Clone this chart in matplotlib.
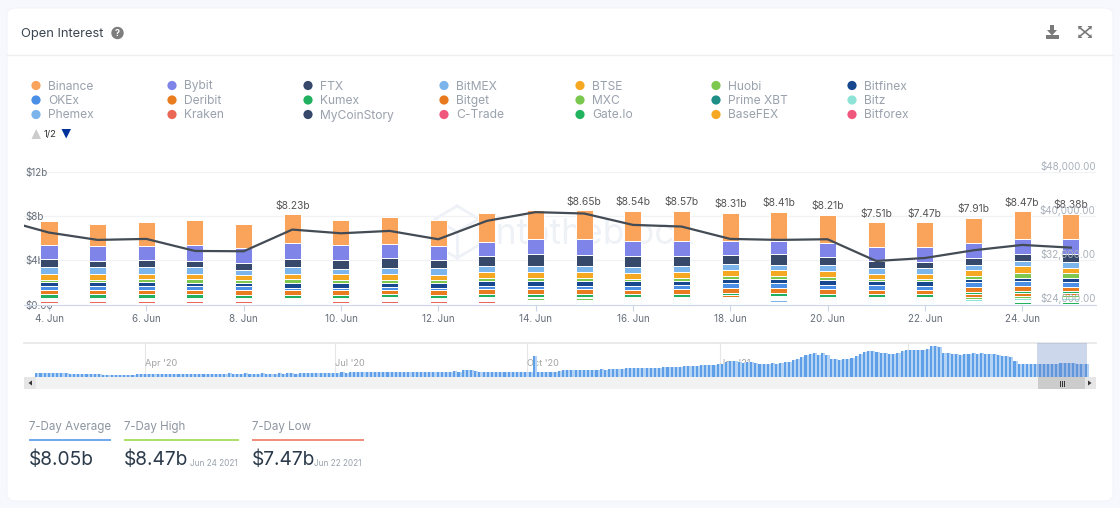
import numpy as np
import matplotlib
matplotlib.use("Agg")
import matplotlib.pyplot as plt
from matplotlib.patches import FancyBboxPatch, Rectangle, Circle, Polygon

plt.rcParams['font.family'] = ['Inter', 'DejaVu Sans']

days = list(range(4, 26))
tick_days = [4, 6, 8, 10, 12, 14, 16, 18, 20, 22, 24]
tick_labels = ["4. Jun", "6. Jun", "8. Jun", "10. Jun", "12. Jun", "14. Jun", "16. Jun", "18. Jun", "20. Jun", "22. Jun", "24. Jun"]

Binance = [2.14, 2.05, 2.14, 2.24, 2.21, 2.60, 2.33, 2.39, 2.30, 2.63, 2.66, 2.66, 2.75, 2.75, 2.54, 2.60, 2.54, 2.24, 2.24, 2.33, 2.54, 2.30]
Bybit = [1.30, 1.33, 1.33, 1.45, 1.33, 1.45, 1.30, 1.30, 1.33, 1.30, 1.33, 1.39, 1.33, 1.33, 1.33, 1.24, 1.30, 1.30, 1.36, 1.30, 1.33, 1.33]
FTX = [.73, .57, .63, .57, .63, .73, .82, .88, .73, .88, 1.03, 1.03, .97, .88, .76, .97, .76, .57, .51, .66, .66, .72]
BitMEX = [.57, .57, .57, .57, .45, .66, .48, .57, .57, .57, .63, .57, .57, .63, .60, .48, .54, .57, .57, .48, .48, .54]
BTSE = [.54, .54, .45, .45, .45, .45, .54, .54, .45, .51, .51, .51, .54, .51, .54, .51, .54, .45, .45, .51, .60, .48]
Huobi = [.18, .18, .27, .36, .27, .36, .27, .27, .27, .30, .30, .30, .24, .24, .24, .30, .21, .21, .21, .24, .42, .42]
Bitfinex = [.42, .42, .42, .33, .33, .45, .45, .33, .45, .39, .39, .39, .39, .39, .36, .36, .45, .36, .39, .33, .33, .42]
OKEx = [.30, .30, .30, .30, .30, .18, .18, .30, .24, .33, .30, .33, .39, .36, .45, .45, .42, .42, .39, .45, .45, .45]
Deribit = [.42, .42, .42, .42, .45, .45, .45, .42, .39, .48, .45, .42, .36, .45, .45, .42, .42, .36, .42, .42, .42, .33]
Kumex = [.30, .30, .36, .30, .27, .27, .27, .24, .27, .24, .30, .30, .30, .24, .21, .24, .24, .30, .24, .21, .24, .18]
Bitget = [.08, .08, .06, .08, .08, .07, .08, .10, .08, .10, .10, .10, .10, .12, .14, .14, .12, .12, .12, .26, .22, .22]
MXC = [.07, .07, .07, .08, .07, .07, .08, .08, .07, .08, .10, .10, .08, .10, .12, .12, .10, .08, .08, .14, .16, .18]
PrimeXBT = [.05, .05, .04, .05, .05, .05, .05, .05, .05, .05, .05, .05, .06, .06, .07, .07, .06, .05, .05, .07, .07, .08]
Bitz = [.06, .06, .05, .06, .06, .08, .06, .07, .06, .07, .08, .08, .09, .09, .10, .10, .09, .09, .09, .11, .12, .13]
Phemex = [.05, .05, .04, .05, .05, .09, .05, .06, .05, .06, .10, .10, .10, .11, .13, .12, .12, .11, .11, .12, .13, .14]
Kraken = [.14, .14, .13, .14, .14, .03, .12, .14, .14, .14, .03, .03, .03, .04, .05, .04, .06, .03, .03, .03, .03, .04]
MyCoinStory = [.02, .02, .02, .02, .02, .02, .02, .02, .02, .02, .02, .02, .02, .02, .03, .02, .02, .02, .02, .03, .03, .03]
CTrade = [.08, .08, .08, .07, .08, .02, .06, .07, .08, .07, .02, .02, .02, .02, .03, .02, .06, .02, .02, .03, .04, .04]
GateIo = [.03, .03, .03, .03, .03, .10, .03, .03, .03, .03, .10, .10, .10, .10, .12, .12, .04, .10, .10, .10, .12, .12]
BaseFEX = [.03, .03, .03, .03, .03, .03, .03, .03, .03, .03, .03, .03, .03, .03, .03, .03, .03, .03, .03, .03, .04, .04]
Bitforex = [.02, .02, .02, .02, .02, .02, .02, .02, .02, .02, .02, .02, .02, .02, .03, .03, .02, .02, .02, .02, .04, .04]

series_names = ["Binance", "Bybit", "FTX", "BitMEX", "BTSE", "Huobi", "Bitfinex", "OKEx", "Deribit", "Kumex", "Bitget",
                "MXC", "Prime XBT", "Bitz", "Phemex", "Kraken", "MyCoinStory", "C-Trade", "Gate.Io", "BaseFEX", "Bitforex"]
series_values = [Binance, Bybit, FTX, BitMEX, BTSE, Huobi, Bitfinex, OKEx, Deribit, Kumex, Bitget,
                 MXC, PrimeXBT, Bitz, Phemex, Kraken, MyCoinStory, CTrade, GateIo, BaseFEX, Bitforex]
series_colors = ["#f9a35b", "#7f84e8", "#36496b", "#7cb5ec", "#f7a823", "#7ec850", "#17488f", "#4a8ee6", "#e87c1f", "#21b05f", "#e8781e",
                 "#7ac74f", "#1f8f85", "#8fe3d6", "#7cb5ec", "#ea6757", "#36496b", "#f0577d", "#22b35e", "#f7a823", "#f0577d"]

bar_labels = {9: "$8.23b", 15: "$8.65b", 16: "$8.54b", 17: "$8.57b", 18: "$8.31b", 19: "$8.41b", 20: "$8.21b",
              21: "$7.51b", 22: "$7.47b", 23: "$7.91b", 24: "$8.47b", 25: "$8.38b"}

price_days = [3, 4, 5, 6, 7, 8, 9, 10, 11, 12, 13, 14, 15, 16, 17, 18, 19, 20, 21, 22, 23, 24, 25]
price = [39450, 37030, 35700, 35880, 33700, 33640, 37570, 36900, 37330, 35820, 39150, 40730, 40480, 38420, 38120,
         35880, 35700, 35820, 31880, 32420, 33820, 34790, 34300]

nav_values = [2.5, 2.5, 2.5, 2.4, 2.5, 2.4, 2.3, 2.2, 2.1, 2.0, 2.1, 2.0, 2.1, 2.1, 2.0, 1.6, 1.3, 1.2, 1.3, 1.2, 1.4,
              1.4, 1.5, 1.4, 1.6, 1.7, 1.8, 1.8, 1.7, 1.8, 1.9, 1.8, 1.7, 1.8, 1.9, 1.7, 1.7, 1.6, 1.8, 1.9, 2.0, 2.0, 2.1,
              2.1, 2.0, 2.1, 2.2, 2.1, 2.0, 2.1, 2.2, 2.0, 2.1, 2.1, 2.2, 2.1, 2.0, 2.1, 2.2, 2.1, 2.2, 2.2, 2.1, 2.3, 2.2, 2.2, 2.3,
              2.5, 2.5, 2.6, 2.6, 2.5, 2.7, 2.8, 2.7, 2.8, 2.9, 3.0, 2.9, 3.0, 3.1, 3.1,
              3.0, 3.1, 3.2, 3.1, 3.0, 3.1, 3.2, 3.2, 3.1, 3.2, 3.3, 3.2, 3.1, 3.2, 3.3, 3.3, 3.2, 3.3, 3.4, 3.3,
              4.0, 4.2, 4.1, 3.4, 3.1, 3.2, 3.3, 3.2, 3.1, 3.3, 3.2, 3.2, 3.3, 3.1, 3.2, 3.2, 3.1, 12.5,
              2.8, 2.9, 3.0, 3.0, 3.2, 3.4,
              4.2, 4.3, 4.2, 4.4, 4.3, 4.2, 4.4, 4.5, 4.4, 4.6, 4.5, 4.7, 4.8, 4.7, 5.0, 5.2, 5.3,
              5.4, 5.5, 5.3, 5.5, 5.6, 5.7, 5.6, 5.8, 5.9, 6.1, 6.2, 6.3,
              6.4, 6.5, 6.8, 6.8, 7.0, 7.2, 7.3, 7.5, 7.6, 8.0, 9.0, 9.5,
              9.6, 9.0, 8.5, 9.2, 9.0, 8.3, 7.9, 7.8, 8.0, 8.2, 7.9, 8.6, 9.0, 9.3, 10.5,
              11.0, 12.0, 13.0, 14.0, 14.4, 13.5, 14.2, 13.5, 11.0, 10.8, 10.5, 10.8, 11.0,
              11.2, 12.5, 14.0, 15.0, 15.9, 15.5, 14.8, 14.5, 14.2, 13.8,
              13.8, 14.5, 15.5, 16.2, 16.2, 16.3, 16.2, 16.0, 16.6, 18.5, 18.4, 17.8, 14.5,
              14.2, 13.8, 13.6, 13.5, 13.9, 14.0, 14.2, 14.0, 14.2, 14.0, 14.1, 14.0, 13.2, 12.8, 12.5, 11.8, 9.5,
              8.1, 7.6, 7.8, 7.8, 7.7, 7.6, 8.0, 7.7, 8.0, 7.9, 8.4, 8.4, 8.5, 8.3, 7.7, 7.6, 8.1]
nav_tick_days = [91, 182, 274, 366, 456]
nav_tick_labels = ["Apr '20", "Jul '20", "Oct '20", "Jan '21", "Apr '21"]

W, H = 1120, 508
GRAY = "#666f7a"
fig = plt.figure(figsize=(W / 100, H / 100), dpi=100, facecolor="#f6f8fd")


def px_axes(x0, y0, x1, y1, **kw):
    return fig.add_axes([x0 / W, 1 - y1 / H, (x1 - x0) / W, (y1 - y0) / H], **kw)


# Page furniture in pixel coordinates
bg = px_axes(0, 0, W, H)
bg.set_xlim(0, W)
bg.set_ylim(H, 0)
bg.axis("off")
bg.set_zorder(0)
bg.add_patch(FancyBboxPatch((7, 8), 1106, 493, boxstyle="round,pad=0,rounding_size=8", mutation_aspect=1,
                            facecolor="white", edgecolor="#f0f2f8", lw=0.6))
bg.plot([7, 1113], [55, 55], color="#eeeff2", lw=1)
bg.text(21, 33.5, "Open Interest", fontsize=9.3, color="#3c4650", va="center", ha="left")
bg.add_patch(Circle((117.5, 33), 5.5, color="#7d7d7d"))
bg.text(117.5, 33, "?", fontsize=6.5, color="white", ha="center", va="center", fontweight="bold")

# Download icon
bg.add_patch(Rectangle((1045.5, 35), 13, 4, color="#7a7a7a", lw=0))
bg.add_patch(Polygon([[1050, 25], [1054, 25], [1054, 30], [1057, 30], [1052, 35.5], [1047, 30], [1050, 30]], color="#7a7a7a", lw=0))
# Expand icon
for sx, sy in [(-1, -1), (1, -1), (-1, 1), (1, 1)]:
    cx, cy = 1085, 32
    bg.plot([cx, cx + sx * 6], [cy, cy + sy * 5], color="#7a7a7a", lw=1.2)
    bg.add_patch(Polygon([[cx + sx * 6.5, cy + sy * 6], [cx + sx * 2.5, cy + sy * 6], [cx + sx * 6.5, cy + sy * 2]], color="#7a7a7a", lw=0))

# Legend
col_x = [36, 172, 308, 444, 580, 716, 852]
row_y = [85.5, 100, 114.5]
for i, (name, color) in enumerate(zip(series_names, series_colors)):
    x, y = col_x[i % 7], row_y[i // 7]
    bg.add_patch(Circle((x, y), 4.6, color=color, lw=0))
    bg.text(x + 12, y + 4, name, fontsize=8.7, color="#9aa2ad", va="baseline", ha="left")
bg.add_patch(Polygon([[31.5, 139], [41, 139], [36.2, 129]], color="#cccccc", lw=0))
bg.text(44, 134.5, "1/2", fontsize=6.8, color="#333333", va="center", ha="left")
bg.add_patch(Polygon([[61.5, 129], [71, 129], [66.2, 138.5]], color="#003399", lw=0))

# Watermark
hx, hy = 457, 232
hex_pts = [[hx, hy - 26], [hx + 22, hy - 13], [hx + 22, hy + 13], [hx, hy + 26], [hx - 22, hy + 13], [hx - 22, hy - 13], [hx, hy - 26]]
bg.plot(*zip(*hex_pts), color="#eef1f6", lw=2)
bg.plot([hx - 22, hx, hx + 22], [hy - 13, hy, hy - 13], color="#eef1f6", lw=2)
bg.plot([hx, hx], [hy, hy + 26], color="#eef1f6", lw=2)
bg.text(488, 234, "intotheblock", fontsize=25.5, color="#eef1f6", va="center", ha="left")

# Stats
stats = [(29, 111, "7-Day Average", "#6ea8ef", "$8.05b", None, 0),
         (124, 239, "7-Day High", "#a9e065", "$8.47b", "Jun 24 2021", 190),
         (252, 364, "7-Day Low", "#f08c7b", "$7.47b", "Jun 22 2021", 314.5)]
for x0, x1, head, col, val, date, dx in stats:
    bg.text(x0, 430, head, fontsize=8.3, color="#8c95a0", va="baseline", ha="left")
    bg.plot([x0, x1], [440, 440], color=col, lw=1.4, solid_capstyle="butt")
    bg.text(x0, 459.5, val, fontsize=13.8, color="#2b3a4a", va="center", ha="left")
    if date:
        bg.text(dx, 463, date, fontsize=5.9, color="#9aa2ad", va="center", ha="left")

# Main chart
ax = px_axes(24, 172, 1095.6, 304.5)
ax.set_zorder(2)
ax.patch.set_alpha(0)
ax.set_xlim(3.486, 25.51)
ax.set_ylim(0, 12)
bottom = np.zeros(len(days))
for vals, col in zip(series_values[::-1], series_colors[::-1]):
    ax.bar(days, vals, width=0.35, bottom=bottom, color=col, edgecolor="#ffffff", linewidth=0.7, zorder=3)
    bottom += np.array(vals)
for d, lab in bar_labels.items():
    total = sum(v[days.index(d)] for v in series_values)
    ax.annotate(lab, (d, total), xytext=(0, 2.5), textcoords="offset points", ha="center", va="bottom",
                fontsize=7.4, color="#555555", zorder=6)
ax.set_xticks(tick_days)
ax.set_xticklabels(tick_labels, fontsize=7.1, color=GRAY)
ax.set_yticks([0, 4, 8, 12])
ax.set_yticklabels(["$0.00", "$4b", "$8b", "$12b"], fontsize=7.1, color=GRAY)
ax.tick_params(axis="x", length=4, width=0.8, color="#ccd6eb", pad=3)
ax.tick_params(axis="y", length=0, pad=-1)
for t in ax.get_yticklabels():
    t.set_ha("left")
ax.grid(axis="y", color="#f1f2f6", lw=0.9, zorder=0)
ax.set_axisbelow(True)
for s in ["top", "left", "right"]:
    ax.spines[s].set_visible(False)
ax.spines["bottom"].set_color("#ccd6eb")

ax2 = ax.twinx()
ax2.set_zorder(3)
ax2.patch.set_alpha(0)
ax2.set_ylim(24000, 48000)
ax2.plot(price_days, price, color="#434b54", lw=1.6, zorder=5)
ax2.set_yticks([24000, 32000, 40000, 48000])
ax2.set_yticklabels(["$24,000.00", "$32,000.00", "$40,000.00", "$48,000.00"], fontsize=7.1, color="#a9b0ba")
ax2.tick_params(axis="y", length=0, pad=0)
for t in ax2.get_yticklabels():
    t.set_ha("right")
    t.set_va("bottom")
for s in ax2.spines.values():
    s.set_visible(False)

# Navigator
nav = px_axes(24, 343, 1096, 377)
nav.set_zorder(2)
nav.patch.set_alpha(0)
nav.set_xlim(33.1, 546)
nav.set_ylim(0, 20.4)
nav_x = np.linspace(39, 541, len(nav_values))
nav.bar(nav_x, nav_values, width=1.0, color="#5f9fe8", linewidth=0, zorder=2)
nav.bar(nav_x + 1, nav_values, width=1.0, color="#b5d3f5", linewidth=0, zorder=2)
nav.axvspan(518, 541.5, color="#6685c2", alpha=0.32, lw=0, zorder=3)
nav.set_xticks(nav_tick_days)
nav.set_xticklabels(nav_tick_labels, fontsize=6.6, color="#a3a3a3", ha="left")
nav.tick_params(axis="x", direction="in", length=0, pad=-13)
nav.set_yticks([])
nav.xaxis.grid(True, color="#e6e6e6", lw=0.8, zorder=1)
nav.set_axisbelow(True)
for t in nav.get_xticklabels():
    t.set_zorder(6)
for s in ["left", "right", "bottom"]:
    nav.spines[s].set_visible(False)
nav.spines["top"].set_color("#e6e6e6")
nav.spines["top"].set_linewidth(1.2)

# Scrollbar
bg.add_patch(Rectangle((24, 377), 1072, 12, color="#f2f2f2", lw=0))
bg.add_patch(Rectangle((24, 377), 12, 12, color="#e6e6e6", lw=0))
bg.add_patch(Rectangle((1084, 377), 12, 12, color="#e6e6e6", lw=0))
bg.add_patch(Rectangle((1038, 377), 47, 12, color="#cccccc", lw=0))
bg.add_patch(Polygon([[32, 380.5], [32, 385.5], [28.5, 383]], color="#333333", lw=0))
bg.add_patch(Polygon([[1088, 380.5], [1088, 385.5], [1091.5, 383]], color="#333333", lw=0))
for gx in [1059.5, 1061.5, 1063.5]:
    bg.plot([gx, gx], [380.5, 385.5], color="#333333", lw=0.7)

fig.savefig("out.png", dpi=100, facecolor=fig.get_facecolor())
